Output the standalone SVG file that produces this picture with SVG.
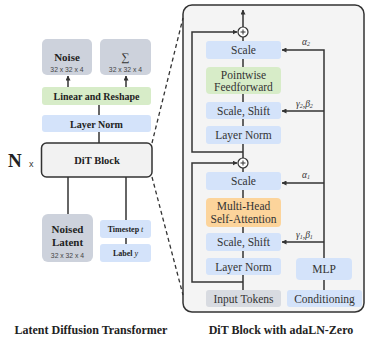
<svg xmlns="http://www.w3.org/2000/svg" width="365" height="340" viewBox="0 0 365 340">
<defs>
<marker id="ah" viewBox="0 0 10 10" refX="9" refY="5" markerWidth="5" markerHeight="5" orient="auto" markerUnits="userSpaceOnUse"><path d="M0,0 L10,5 L0,10 z" fill="#333"/></marker>
<style>
.ln{stroke:#333;stroke-width:1.5;fill:none}
.blue{fill:#d4e3fa}
.green{fill:#d7ecc8}
.orange{fill:#fcd49b}
.gray{fill:#cdd2dc}
.tb{font-family:"Liberation Serif",serif;font-weight:bold;fill:#222;text-anchor:middle}
.tr{font-family:"Liberation Serif",serif;fill:#333;text-anchor:middle;font-size:11.5px}
.sm{font-family:"Liberation Sans",sans-serif;fill:#444;text-anchor:middle;font-size:6.8px}
.gr{font-family:"Liberation Serif",serif;font-style:italic;fill:#333;font-size:9.5px}
</style>
</defs>
<rect width="365" height="340" fill="#fff"/>

<!-- panel -->
<g id="panel">
<rect x="183" y="5" width="181" height="307" rx="9" fill="#f4f4f4" stroke="#333" stroke-width="1.5"/>
</g>

<g id="connectors">
<!-- dashed -->
<path d="M152,143 L183,18" stroke="#333" stroke-width="1.3" stroke-dasharray="4,3" fill="none"/>
<path d="M152,177 L183,295" stroke="#333" stroke-width="1.3" stroke-dasharray="4,3" fill="none"/>
<!-- left side -->
<path class="ln" d="M68,87 L68,76" marker-end="url(#ah)"/>
<path class="ln" d="M126,87 L126,76" marker-end="url(#ah)"/>
<path class="ln" d="M99,105 L99,115"/>
<path class="ln" d="M99,132 L99,143"/>
<path class="ln" d="M68,177 L68,214"/>
<path class="ln" d="M126,177 L126,220"/>
<path class="ln" d="M126,238 L126,244"/>
<!-- panel main -->
<path class="ln" d="M243,290 L243,37"/>
<path class="ln" d="M243,27 L243,10" marker-end="url(#ah)"/>
<path class="ln" d="M243,282 L192,282 L192,163 L237,163" marker-end="url(#ah)"/>
<path class="ln" d="M243,152 L192,152 L192,32 L237,32" marker-end="url(#ah)"/>
<path class="ln" d="M324,258 L324,50 L282,50" marker-end="url(#ah)"/>
<path class="ln" d="M324,111 L282,111" marker-end="url(#ah)"/>
<path class="ln" d="M324,183 L282,183" marker-end="url(#ah)"/>
<path class="ln" d="M324,242 L282,242" marker-end="url(#ah)"/>
<path class="ln" d="M324,280 L324,290"/>
</g>

<!-- left nodes -->
<g id="noise"><rect class="gray" x="42" y="39" width="50" height="36" rx="5"/><text class="tb" x="67" y="61" font-size="11">Noise</text><text class="sm" x="67" y="72">32 x 32 x 4</text></g>
<g id="sigma"><rect class="gray" x="100" y="39" width="51" height="36" rx="5"/><text class="tr" x="125.5" y="61" font-size="12">∑</text><text class="sm" x="125.5" y="72">32 x 32 x 4</text></g>
<g id="linear"><rect class="green" x="42" y="87" width="109" height="18" rx="3"/><text class="tb" x="96.5" y="100" font-size="10">Linear and Reshape</text></g>
<g id="layernorm-l"><rect class="blue" x="42" y="115" width="109" height="17" rx="3"/><text class="tb" x="96.5" y="127.5" font-size="10">Layer Norm</text></g>
<g id="ditblock"><rect x="41.5" y="143" width="110.5" height="34" rx="5" fill="#f2f2f2" stroke="#333" stroke-width="1.5"/><text class="tb" x="97" y="164" font-size="10.5">DiT Block</text></g>
<g id="nx"><text x="8" y="167" font-family="Liberation Serif,serif" font-weight="bold" font-size="19" fill="#222">N</text><text x="29" y="167" font-family="Liberation Sans,sans-serif" font-size="9" fill="#333">x</text></g>
<g id="noised"><rect class="gray" x="42" y="214" width="51" height="48" rx="6"/><text class="tb" x="67.5" y="233" font-size="11">Noised</text><text class="tb" x="67.5" y="246" font-size="11">Latent</text><text class="sm" x="67.5" y="258">32 x 32 x 4</text></g>
<g id="timestep"><rect class="blue" x="100" y="220" width="51" height="18" rx="3"/><text class="tb" x="125.5" y="232" font-size="8">Timestep <tspan font-style="italic" font-weight="normal">t</tspan></text></g>
<g id="label"><rect class="blue" x="100" y="244" width="51" height="18" rx="3"/><text class="tb" x="125.5" y="256" font-size="8">Label <tspan font-style="italic" font-weight="normal">y</tspan></text></g>

<!-- panel nodes -->
<g id="plus1"><circle cx="243" cy="32" r="5" fill="#fff" stroke="#333" stroke-width="1.2"/><path d="M240.5,32 H245.5 M243,29.5 V34.5" stroke="#333" stroke-width="1"/></g>
<g id="scale2"><rect class="blue" x="206" y="41" width="75" height="18" rx="3"/><text class="tr" x="243.5" y="54">Scale</text></g>
<g id="ff"><rect class="green" x="206" y="67" width="75" height="27" rx="4"/><text class="tr" x="243.5" y="78.5">Pointwise</text><text class="tr" x="243.5" y="91">Feedforward</text></g>
<g id="ss2"><rect class="blue" x="206" y="102" width="75" height="17" rx="3"/><text class="tr" x="243.5" y="114.5">Scale, Shift</text></g>
<g id="ln2"><rect class="blue" x="206" y="126" width="75" height="18" rx="3"/><text class="tr" x="243.5" y="139">Layer Norm</text></g>
<g id="plus2"><circle cx="243" cy="163" r="5" fill="#fff" stroke="#333" stroke-width="1.2"/><path d="M240.5,163 H245.5 M243,160.5 V165.5" stroke="#333" stroke-width="1"/></g>
<g id="scale1"><rect class="blue" x="206" y="172" width="75" height="18" rx="3"/><text class="tr" x="243.5" y="185">Scale</text></g>
<g id="mhsa"><rect class="orange" x="206" y="198" width="75" height="29" rx="4"/><text class="tr" x="243.5" y="210">Multi-Head</text><text class="tr" x="243.5" y="223">Self-Attention</text></g>
<g id="ss1"><rect class="blue" x="206" y="233" width="75" height="18" rx="3"/><text class="tr" x="243.5" y="246">Scale, Shift</text></g>
<g id="ln1"><rect class="blue" x="206" y="258" width="75" height="17" rx="3"/><text class="tr" x="243.5" y="270.5">Layer Norm</text></g>
<g id="input"><rect x="206" y="290" width="75" height="17" rx="3" fill="#d8dbe1"/><text class="tr" x="243.5" y="302.5">Input Tokens</text></g>
<g id="mlp"><rect class="blue" x="296" y="258" width="56" height="22" rx="4"/><text class="tr" x="324" y="273">MLP</text></g>
<g id="cond"><rect class="blue" x="287" y="290" width="75" height="17" rx="3"/><text class="tr" x="324.5" y="302.5">Conditioning</text></g>

<g id="greek">
<text class="gr" x="302" y="44.5">α<tspan font-size="6" dy="1.5">2</tspan></text>
<text class="gr" x="296" y="106.5">γ<tspan font-size="6" dy="1.5">2</tspan><tspan dy="-1.5">,β</tspan><tspan font-size="6" dy="1.5">2</tspan></text>
<text class="gr" x="302" y="177.5">α<tspan font-size="6" dy="1.5">1</tspan></text>
<text class="gr" x="296" y="237.5">γ<tspan font-size="6" dy="1.5">1</tspan><tspan dy="-1.5">,β</tspan><tspan font-size="6" dy="1.5">1</tspan></text>
</g>

<g id="captions">
<text class="tb" x="91" y="334" font-size="12">Latent Diffusion Transformer</text>
<text class="tb" x="281" y="334" font-size="12">DiT Block with adaLN-Zero</text>
</g>
</svg>
